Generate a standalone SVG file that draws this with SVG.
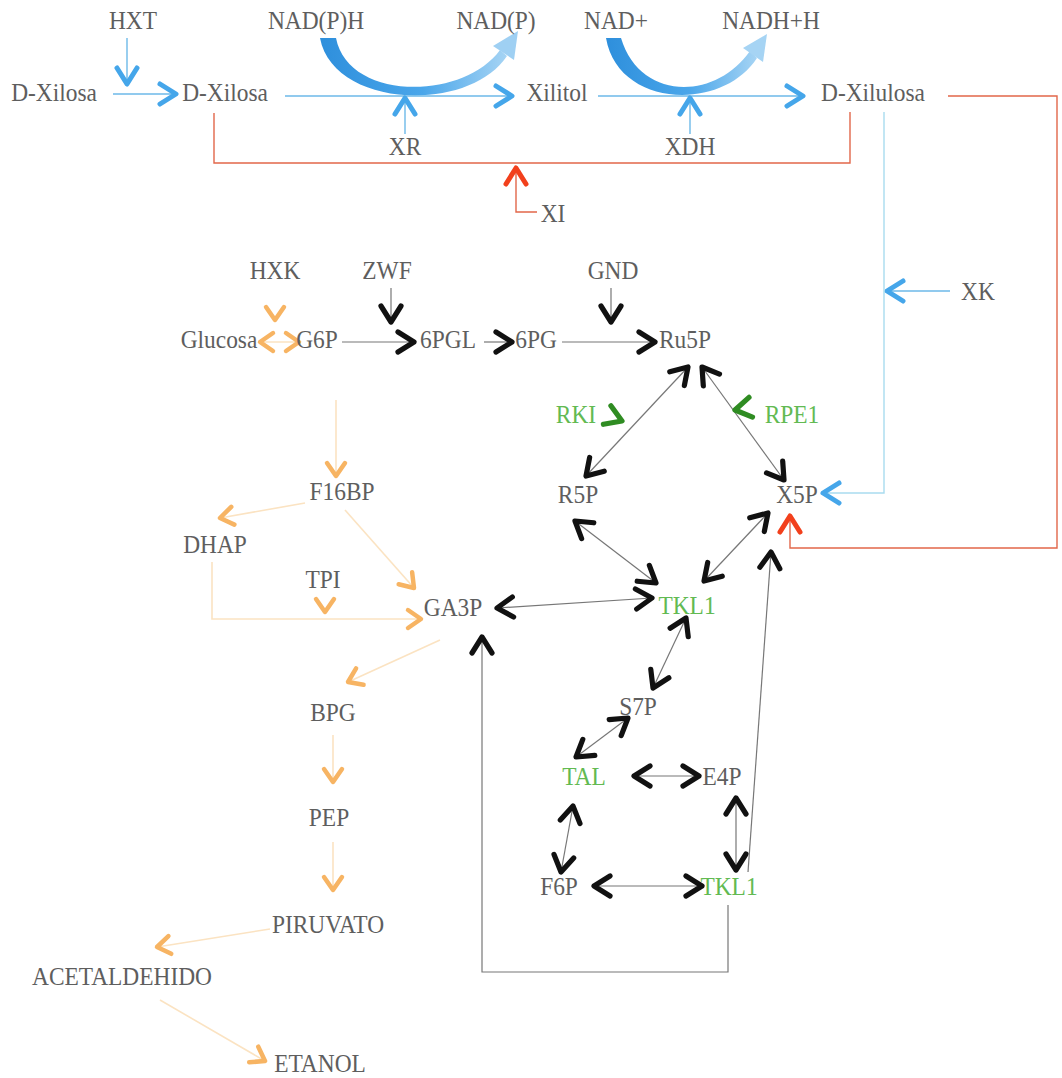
<svg xmlns="http://www.w3.org/2000/svg" xmlns:xlink="http://www.w3.org/1999/xlink" width="1062" height="1078" viewBox="0 0 1062 1078">
  <style>
    .t{font-family:"Liberation Serif","Times New Roman",serif;font-size:26px;fill:#5e5e5e;text-anchor:middle}
    .g{fill:#62ba52}
    .lk{fill:none;stroke:#777;stroke-width:1.2}
    .lb{fill:none;stroke:#6db9e8;stroke-width:1.4}
    .lr{fill:none;stroke:#e2674a;stroke-width:1.4}
    .lo{fill:none;stroke:#fbe3c2;stroke-width:1.6}
    .ck{fill:none;stroke:#111;stroke-width:5.2;stroke-linecap:round;stroke-linejoin:round}
    .cb{fill:none;stroke:#45a6ea;stroke-width:5;stroke-linecap:round;stroke-linejoin:round}
    .cr{fill:none;stroke:#f2401c;stroke-width:5;stroke-linecap:round;stroke-linejoin:round}
    .co{fill:none;stroke:#f7b463;stroke-width:4.5;stroke-linecap:round;stroke-linejoin:round}
    .cg{fill:none;stroke:#2f8c22;stroke-width:5.2;stroke-linecap:round;stroke-linejoin:round}
  </style>
  <defs>
    <path id="cv" d="M -16 -10 L 0 0 L -16 10"/>
    <path id="cvs" d="M -13 -9 L 0 0 L -13 9"/>
    <marker id="ak" markerUnits="userSpaceOnUse" orient="auto-start-reverse" overflow="visible" markerWidth="1" markerHeight="1"><use href="#cv" class="ck"/></marker>
    <marker id="ab" markerUnits="userSpaceOnUse" orient="auto-start-reverse" overflow="visible" markerWidth="1" markerHeight="1"><use href="#cv" class="cb"/></marker>
    <marker id="ar" markerUnits="userSpaceOnUse" orient="auto-start-reverse" overflow="visible" markerWidth="1" markerHeight="1"><use href="#cv" class="cr"/></marker>
    <marker id="ao" markerUnits="userSpaceOnUse" orient="auto-start-reverse" overflow="visible" markerWidth="1" markerHeight="1"><use href="#cvs" class="co"/></marker>
    <linearGradient id="band" x1="0" y1="0" x2="1" y2="0">
      <stop offset="0" stop-color="#2e8fdc"/>
      <stop offset="0.55" stop-color="#4aa6ea"/>
      <stop offset="1" stop-color="#a6d4f4"/>
    </linearGradient>
  </defs>

  <!-- connectors -->
  <g id="connectors">
    <!-- cofactor bands -->
    <g fill="url(#band)">
      <path d="M 320 38 C 333 108 468 114 507 56 L 500 50 C 463 101 348 101 336 38 Z"/>
      <path d="M 514 60 L 493 46 L 518 31 Z" fill="#9fd0f3"/>
      <path d="M 606 38 C 618 108 722 112 757 58 L 750 51 C 715 101 640 101 621 38 Z"/>
      <path d="M 763 62 L 743 48 L 767 34 Z" fill="#a6d4f4"/>
    </g>

    <!-- xylose uptake and XR/XDH route (blue) -->
    <g class="lb">
      <path d="M 127 38 L 127 84" marker-end="url(#ab)"/>
      <path d="M 113 94 L 176 94" marker-end="url(#ab)"/>
      <path d="M 285 96 L 512 96" marker-end="url(#ab)"/>
      <path d="M 598 96 L 803 96" marker-end="url(#ab)"/>
      <path d="M 405 134 L 405 98" marker-end="url(#ab)"/>
      <path d="M 690 134 L 690 98" marker-end="url(#ab)"/>
      <path d="M 950 291 L 887 291" marker-end="url(#ab)"/>
      <path d="M 884 112 L 884 493 L 823 493" marker-end="url(#ab)" stroke="#a9dcef"/>
    </g>

    <!-- xylose isomerase route (red) -->
    <g class="lr">
      <path d="M 214 113 L 214 163 L 850 163 L 850 112"/>
      <path d="M 537 212 L 516 212 L 516 168" marker-end="url(#ar)"/>
      <path d="M 948 96 L 1057 96 L 1057 548 L 790 548 L 790 516" marker-end="url(#ar)"/>
    </g>

    <!-- pentose phosphate pathway (black) -->
    <g class="lk">
      <path d="M 391 288 L 391 322" marker-end="url(#ak)"/>
      <path d="M 611 288 L 611 322" marker-end="url(#ak)"/>
      <path d="M 342 342 L 414 342" marker-end="url(#ak)"/>
      <path d="M 484 342 L 512 342" marker-end="url(#ak)"/>
      <path d="M 562 342 L 655 342" marker-end="url(#ak)"/>
      <path d="M 688 367 L 586 476" marker-start="url(#ak)" marker-end="url(#ak)"/>
      <path d="M 702 367 L 784 480" marker-start="url(#ak)" marker-end="url(#ak)"/>
      <path d="M 575 521 L 656 583" marker-start="url(#ak)" marker-end="url(#ak)"/>
      <path d="M 768 513 L 704 581" marker-start="url(#ak)" marker-end="url(#ak)"/>
      <path d="M 497 608 L 652 598" marker-start="url(#ak)" marker-end="url(#ak)"/>
      <path d="M 686 618 L 653 688" marker-start="url(#ak)" marker-end="url(#ak)"/>
      <path d="M 628 718 L 576 757" marker-start="url(#ak)" marker-end="url(#ak)"/>
      <path d="M 634 776 L 699 776" marker-start="url(#ak)" marker-end="url(#ak)"/>
      <path d="M 573 806 L 561 872" marker-start="url(#ak)" marker-end="url(#ak)"/>
      <path d="M 736 798 L 736 870" marker-start="url(#ak)" marker-end="url(#ak)"/>
      <path d="M 594 886 L 702 886" marker-start="url(#ak)" marker-end="url(#ak)"/>
      <path d="M 748 872 L 771 552" marker-end="url(#ak)"/>
      <path d="M 728 905 L 728 972 L 482 972 L 482 637" marker-end="url(#ak)"/>
    </g>

    <!-- glycolysis and fermentation (orange) -->
    <g class="lo">
      <path d="M 260 342 L 299 342" marker-start="url(#ao)" marker-end="url(#ao)"/>
      <path d="M 336 400 L 336 476" marker-end="url(#ao)"/>
      <path d="M 305 503 L 220 518" marker-end="url(#ao)"/>
      <path d="M 345 510 L 414 588" marker-end="url(#ao)"/>
      <path d="M 212 562 L 212 619 L 421 619" marker-end="url(#ao)"/>
      <path d="M 440 640 L 348 682" marker-end="url(#ao)"/>
      <path d="M 333 735 L 333 782" marker-end="url(#ao)"/>
      <path d="M 333 842 L 333 890" marker-end="url(#ao)"/>
      <path d="M 270 929 L 157 947" marker-end="url(#ao)"/>
      <path d="M 160 1000 L 265 1061" marker-end="url(#ao)"/>
    </g>

    <!-- enzyme markers without a stem -->
    <use href="#cvs" class="co" transform="translate(275 320) rotate(90)"/>
    <use href="#cvs" class="co" transform="translate(325 612) rotate(90)"/>
    <use href="#cv" class="cg" transform="translate(622 421) rotate(22)"/>
    <use href="#cv" class="cg" transform="translate(735 410) rotate(170)"/>
  </g>

  <!-- xylose branch -->
  <g id="n-dxilosa-ext"><text class="t" transform="translate(54 101) scale(.9 1)">D-Xilosa</text></g>
  <g id="n-hxt"><text class="t" transform="translate(133 29) scale(.9 1)">HXT</text></g>
  <g id="n-dxilosa"><text class="t" transform="translate(225 101) scale(.9 1)">D-Xilosa</text></g>
  <g id="n-nadph"><text class="t" transform="translate(316 29) scale(.9 1)">NAD(P)H</text></g>
  <g id="n-nadp"><text class="t" transform="translate(496 29) scale(.9 1)">NAD(P)</text></g>
  <g id="n-xr"><text class="t" transform="translate(405 155) scale(.9 1)">XR</text></g>
  <g id="n-xilitol"><text class="t" transform="translate(557 101) scale(.9 1)">Xilitol</text></g>
  <g id="n-nad"><text class="t" transform="translate(616 29) scale(.9 1)">NAD+</text></g>
  <g id="n-nadh"><text class="t" transform="translate(771 29) scale(.9 1)">NADH+H</text></g>
  <g id="n-xdh"><text class="t" transform="translate(690 155) scale(.9 1)">XDH</text></g>
  <g id="n-dxilulosa"><text class="t" transform="translate(873 101) scale(.9 1)">D-Xilulosa</text></g>
  <g id="n-xi"><text class="t" transform="translate(553 222) scale(.9 1)">XI</text></g>
  <g id="n-xk"><text class="t" transform="translate(978 300) scale(.9 1)">XK</text></g>

  <!-- oxidative pentose phosphate branch -->
  <g id="n-hxk"><text class="t" transform="translate(275 279) scale(.9 1)">HXK</text></g>
  <g id="n-zwf"><text class="t" transform="translate(387 279) scale(.9 1)">ZWF</text></g>
  <g id="n-gnd"><text class="t" transform="translate(613 279) scale(.9 1)">GND</text></g>
  <g id="n-glucosa"><text class="t" transform="translate(219 348) scale(.9 1)">Glucosa</text></g>
  <g id="n-g6p"><text class="t" transform="translate(317 348) scale(.9 1)">G6P</text></g>
  <g id="n-6pgl"><text class="t" transform="translate(448 348) scale(.9 1)">6PGL</text></g>
  <g id="n-6pg"><text class="t" transform="translate(536 348) scale(.9 1)">6PG</text></g>
  <g id="n-ru5p"><text class="t" transform="translate(685 348) scale(.9 1)">Ru5P</text></g>

  <!-- non-oxidative pentose phosphate branch -->
  <g id="n-rki"><text class="t g" transform="translate(576 423) scale(.9 1)">RKI</text></g>
  <g id="n-rpe1"><text class="t g" transform="translate(792 423) scale(.9 1)">RPE1</text></g>
  <g id="n-r5p"><text class="t" transform="translate(578 503) scale(.9 1)">R5P</text></g>
  <g id="n-x5p"><text class="t" transform="translate(797 503) scale(.9 1)">X5P</text></g>
  <g id="n-tkl1-a"><text class="t g" transform="translate(687 614) scale(.9 1)">TKL1</text></g>
  <g id="n-s7p"><text class="t" transform="translate(638 715) scale(.9 1)">S7P</text></g>
  <g id="n-tal"><text class="t g" transform="translate(584 785) scale(.9 1)">TAL</text></g>
  <g id="n-e4p"><text class="t" transform="translate(722 785) scale(.9 1)">E4P</text></g>
  <g id="n-f6p"><text class="t" transform="translate(559 895) scale(.9 1)">F6P</text></g>
  <g id="n-tkl1-b"><text class="t g" transform="translate(729 895) scale(.9 1)">TKL1</text></g>

  <!-- glycolysis and fermentation -->
  <g id="n-f16bp"><text class="t" transform="translate(342 500) scale(.9 1)">F16BP</text></g>
  <g id="n-dhap"><text class="t" transform="translate(215 553) scale(.9 1)">DHAP</text></g>
  <g id="n-tpi"><text class="t" transform="translate(323 588) scale(.9 1)">TPI</text></g>
  <g id="n-ga3p"><text class="t" transform="translate(453 616) scale(.9 1)">GA3P</text></g>
  <g id="n-bpg"><text class="t" transform="translate(333 721) scale(.9 1)">BPG</text></g>
  <g id="n-pep"><text class="t" transform="translate(329 826) scale(.9 1)">PEP</text></g>
  <g id="n-piruvato"><text class="t" transform="translate(328 933) scale(.9 1)">PIRUVATO</text></g>
  <g id="n-acetaldehido"><text class="t" transform="translate(122 985) scale(.9 1)">ACETALDEHIDO</text></g>
  <g id="n-etanol"><text class="t" transform="translate(320 1072) scale(.9 1)">ETANOL</text></g>
</svg>
